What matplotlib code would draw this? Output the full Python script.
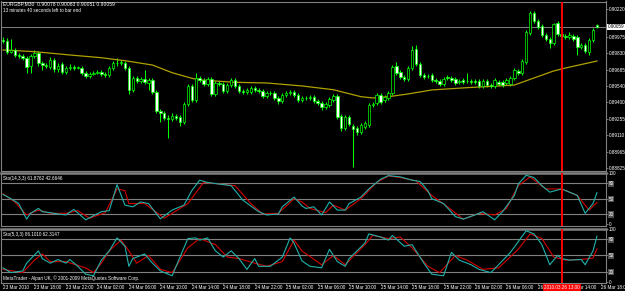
import numpy as np
import matplotlib.pyplot as plt
from matplotlib import font_manager
from matplotlib.transforms import blended_transform_factory as blend

# ---------------------------- EURGBP,M30 bars

opens = [0.89945, 0.89936, 0.89840, 0.89858, 0.89814, 0.89805, 0.89788, 0.89718, 0.89805, 0.89831,
         0.89744, 0.89726, 0.89709, 0.89770, 0.89691, 0.89735, 0.89665, 0.89700, 0.89709, 0.89700,
         0.89700, 0.89656, 0.89630, 0.89648, 0.89656, 0.89665, 0.89648, 0.89639, 0.89700, 0.89744,
         0.89744, 0.89744, 0.89700, 0.89508, 0.89613, 0.89586, 0.89604, 0.89569, 0.89595, 0.89490,
         0.89324, 0.89306, 0.89263, 0.89254, 0.89280, 0.89271, 0.89228, 0.89385, 0.89543, 0.89420,
         0.89613, 0.89595, 0.89560, 0.89604, 0.89473, 0.89569, 0.89560, 0.89499, 0.89551, 0.89595,
         0.89543, 0.89499, 0.89490, 0.89490, 0.89525, 0.89508, 0.89499, 0.89455, 0.89481, 0.89481,
         0.89438, 0.89411, 0.89464, 0.89481, 0.89490, 0.89464, 0.89420, 0.89438, 0.89438, 0.89446,
         0.89411, 0.89394, 0.89359, 0.89376, 0.89420, 0.89455, 0.89280, 0.89175, 0.89271, 0.89193,
         0.89175, 0.89140, 0.89184, 0.89201, 0.89376, 0.89394, 0.89464, 0.89420, 0.89438, 0.89481,
         0.89718, 0.89665, 0.89621, 0.89604, 0.89700, 0.89866, 0.89735, 0.89639, 0.89630, 0.89639,
         0.89595, 0.89586, 0.89560, 0.89621, 0.89613, 0.89604, 0.89578, 0.89595, 0.89586, 0.89586,
         0.89586, 0.89586, 0.89543, 0.89586, 0.89551, 0.89543, 0.89578, 0.89578, 0.89569, 0.89560,
         0.89613, 0.89674, 0.89656, 0.89753, 0.90006, 0.90181, 0.90111, 0.90068, 0.89989, 0.89954,
         0.89919, 0.90094, 0.89998, 0.89980, 0.89971, 0.89980, 0.89971, 0.89884, 0.89901, 0.89840,
         0.89945, 0.90078]

highs = [0.89971, 0.89963, 0.89954, 0.89875, 0.89831, 0.89823, 0.89805, 0.89823, 0.89858, 0.89849,
         0.89761, 0.89744, 0.89796, 0.89788, 0.89744, 0.89753, 0.89718, 0.89735, 0.89726, 0.89718,
         0.89718, 0.89674, 0.89665, 0.89674, 0.89683, 0.89683, 0.89665, 0.89718, 0.89761, 0.89788,
         0.89770, 0.89761, 0.89718, 0.89630, 0.89630, 0.89621, 0.89683, 0.89613, 0.89613, 0.89508,
         0.89341, 0.89324, 0.89289, 0.89306, 0.89298, 0.89289, 0.89403, 0.89560, 0.89560, 0.89656,
         0.89630, 0.89613, 0.89621, 0.89621, 0.89586, 0.89586, 0.89578, 0.89569, 0.89613, 0.89613,
         0.89560, 0.89516, 0.89525, 0.89543, 0.89543, 0.89525, 0.89516, 0.89499, 0.89499, 0.89499,
         0.89455, 0.89481, 0.89499, 0.89508, 0.89508, 0.89481, 0.89455, 0.89455, 0.89464, 0.89464,
         0.89429, 0.89411, 0.89403, 0.89446, 0.89473, 0.89473, 0.89298, 0.89289, 0.89289, 0.89210,
         0.89193, 0.89219, 0.89236, 0.89394, 0.89403, 0.89481, 0.89481, 0.89464, 0.89499, 0.89726,
         0.89753, 0.89683, 0.89639, 0.89718, 0.89893, 0.89901, 0.89753, 0.89656, 0.89648, 0.89656,
         0.89613, 0.89604, 0.89621, 0.89639, 0.89630, 0.89621, 0.89604, 0.89613, 0.89656, 0.89604,
         0.89604, 0.89604, 0.89604, 0.89604, 0.89569, 0.89613, 0.89595, 0.89595, 0.89613, 0.89630,
         0.89700, 0.89691, 0.89779, 0.90033, 0.90199, 0.90199, 0.90129, 0.90085, 0.90006, 0.89971,
         0.90094, 0.90111, 0.90015, 0.89998, 0.90015, 0.89998, 0.89989, 0.89919, 0.89919, 0.89963,
         0.90050, 0.90083]

lows = [0.89919, 0.89823, 0.89831, 0.89796, 0.89788, 0.89770, 0.89656, 0.89656, 0.89788, 0.89718,
        0.89683, 0.89700, 0.89691, 0.89665, 0.89665, 0.89648, 0.89648, 0.89683, 0.89683, 0.89691,
        0.89639, 0.89613, 0.89613, 0.89639, 0.89648, 0.89630, 0.89621, 0.89621, 0.89683, 0.89718,
        0.89726, 0.89683, 0.89473, 0.89490, 0.89569, 0.89569, 0.89560, 0.89508, 0.89473, 0.89306,
        0.89228, 0.89245, 0.89088, 0.89236, 0.89245, 0.89193, 0.89210, 0.89368, 0.89403, 0.89403,
        0.89578, 0.89543, 0.89543, 0.89455, 0.89455, 0.89543, 0.89481, 0.89481, 0.89534, 0.89525,
        0.89481, 0.89473, 0.89473, 0.89473, 0.89490, 0.89481, 0.89438, 0.89438, 0.89464, 0.89420,
        0.89385, 0.89394, 0.89446, 0.89464, 0.89446, 0.89403, 0.89403, 0.89420, 0.89420, 0.89394,
        0.89376, 0.89333, 0.89341, 0.89359, 0.89403, 0.89254, 0.89149, 0.89158, 0.89193, 0.88834,
        0.89114, 0.89123, 0.89166, 0.89184, 0.89359, 0.89376, 0.89385, 0.89403, 0.89420, 0.89464,
        0.89639, 0.89604, 0.89586, 0.89586, 0.89683, 0.89718, 0.89621, 0.89604, 0.89613, 0.89578,
        0.89569, 0.89543, 0.89543, 0.89595, 0.89578, 0.89551, 0.89560, 0.89560, 0.89569, 0.89560,
        0.89560, 0.89525, 0.89525, 0.89534, 0.89525, 0.89525, 0.89543, 0.89534, 0.89551, 0.89543,
        0.89595, 0.89639, 0.89639, 0.89735, 0.89989, 0.90094, 0.90041, 0.89971, 0.89936, 0.89875,
        0.89901, 0.89980, 0.89963, 0.89954, 0.89954, 0.89936, 0.89814, 0.89866, 0.89831, 0.89814,
        0.89928, 0.90051]

closes = [0.89936, 0.89840, 0.89858, 0.89814, 0.89805, 0.89788, 0.89709, 0.89805, 0.89831, 0.89744,
          0.89726, 0.89718, 0.89770, 0.89691, 0.89718, 0.89665, 0.89700, 0.89709, 0.89700, 0.89709,
          0.89656, 0.89630, 0.89648, 0.89656, 0.89665, 0.89648, 0.89639, 0.89700, 0.89744, 0.89748,
          0.89753, 0.89700, 0.89508, 0.89613, 0.89586, 0.89604, 0.89578, 0.89595, 0.89490, 0.89324,
          0.89306, 0.89263, 0.89254, 0.89280, 0.89263, 0.89228, 0.89385, 0.89543, 0.89420, 0.89613,
          0.89595, 0.89560, 0.89604, 0.89473, 0.89569, 0.89560, 0.89499, 0.89551, 0.89595, 0.89543,
          0.89499, 0.89490, 0.89508, 0.89525, 0.89508, 0.89499, 0.89455, 0.89481, 0.89478, 0.89438,
          0.89411, 0.89464, 0.89481, 0.89490, 0.89464, 0.89420, 0.89438, 0.89435, 0.89446, 0.89411,
          0.89394, 0.89359, 0.89385, 0.89429, 0.89455, 0.89271, 0.89175, 0.89271, 0.89210, 0.89166,
          0.89140, 0.89201, 0.89219, 0.89376, 0.89385, 0.89464, 0.89403, 0.89446, 0.89481, 0.89709,
          0.89656, 0.89621, 0.89604, 0.89700, 0.89858, 0.89735, 0.89639, 0.89621, 0.89627, 0.89595,
          0.89586, 0.89560, 0.89604, 0.89613, 0.89595, 0.89569, 0.89586, 0.89578, 0.89583, 0.89578,
          0.89578, 0.89543, 0.89586, 0.89551, 0.89543, 0.89595, 0.89560, 0.89551, 0.89595, 0.89613,
          0.89683, 0.89656, 0.89761, 0.90015, 0.90181, 0.90111, 0.90059, 0.89989, 0.89954, 0.89919,
          0.90085, 0.89998, 0.89980, 0.89971, 0.89989, 0.89954, 0.89884, 0.89901, 0.89849, 0.89945,
          0.90033, 0.90059]

# moving average, read at a few bars
ma_idx = [0, 8, 17, 25, 31, 38, 43, 48, 50, 59, 67, 76, 84, 91, 94, 98, 103, 109, 118, 126,
          130, 135, 140, 143, 151]
ma_val = [0.89858, 0.89843, 0.89814, 0.89790, 0.89764, 0.89726, 0.89659, 0.89610, 0.89595, 0.89575,
          0.89569, 0.89543, 0.89510, 0.89449, 0.89438, 0.89449, 0.89473, 0.89508, 0.89528, 0.89543,
          0.89551, 0.89613, 0.89674, 0.89700, 0.89761]

# Stochastic(14,3,3)
sto1_k_idx = [0, 2, 4, 6, 7, 9, 10, 12, 14, 16, 18, 21, 25, 27, 29, 31, 33, 35, 37, 40,
              43, 46, 48, 50, 52, 55, 58, 61, 65, 67, 70, 71, 74, 76, 77, 79, 81, 83, 85, 87,
              88, 91, 93, 96, 98, 101, 104, 106, 108, 109, 112, 115, 117, 120, 122, 125, 127, 130, 131, 133,
              135, 137, 139, 142, 144, 146, 148, 150, 151]
sto1_k = [58.4, 50.2, 40.6, 10.2, 21.6, 31.1, 24.8, 22.9, 20.3, 18.4, 29.2, 8.9, 24.8, 26.7, 77.5, 37.5, 34.3, 43.8, 40.6, 10.8,
          27.9, 37.5, 66.0, 86.3, 81.9, 78.7, 75.6, 47.0, 24.8, 18.4, 20.3, 34.3, 53.3, 36.0, 31.1, 34.3, 18.4, 43.8, 27.9, 27.9,
          40.6, 53.3, 69.2, 88.3, 95.2, 92.7, 86.3, 83.8, 66.0, 50.2, 40.6, 15.2, 10.2, 18.4, 24.8, 8.9, 24.8, 56.5, 78.7, 95.9,
          91.4, 75.6, 62.9, 69.2, 62.9, 56.5, 21.6, 40.6, 61.9]
sto1_d_idx = [0, 3, 6, 9, 12, 16, 19, 22, 26, 29, 31, 32, 36, 41, 47, 51, 59, 63, 66, 70,
              74, 76, 78, 82, 84, 87, 91, 95, 98, 101, 105, 109, 113, 117, 121, 125, 128, 131, 134, 138,
              142, 146, 149, 151]
sto1_d = [59.7, 43.8, 18.4, 27.9, 21.6, 21.6, 26.7, 12.1, 22.9, 69.2, 66.0, 40.6, 40.6, 12.1, 40.6, 81.9, 75.6, 40.6, 20.3, 21.6,
          50.2, 43.8, 31.1, 22.9, 37.5, 27.9, 50.2, 81.9, 94.6, 91.4, 85.1, 56.5, 34.3, 10.2, 21.6, 18.4, 31.1, 75.6, 92.7, 69.2,
          69.2, 56.5, 27.9, 42.7]

# Stochastic(5,3,3)
sto2_k_idx = [0, 2, 5, 6, 9, 10, 12, 14, 16, 17, 19, 21, 23, 25, 27, 29, 31, 32, 33, 36,
              38, 40, 43, 45, 47, 49, 50, 52, 54, 56, 58, 60, 62, 64, 65, 68, 71, 73, 74, 76,
              78, 81, 83, 85, 87, 88, 92, 93, 96, 98, 99, 102, 104, 107, 109, 112, 114, 116, 119, 121,
              124, 126, 129, 131, 133, 135, 137, 139, 141, 142, 144, 147, 148, 150, 151]
sto2_k = [26.9, 18.0, 21.0, 35.6, 58.6, 44.2, 35.6, 42.5, 35.6, 42.5, 29.8, 15.0, 12.0, 41.3, 58.6, 82.9, 67.3, 29.8, 44.2, 52.9,
          35.6, 21.1, 12.0, 47.1, 81.7, 82.9, 78.8, 82.9, 58.6, 47.1, 58.6, 44.2, 24.0, 44.2, 29.8, 29.8, 47.1, 82.9, 73.1, 40.0,
          29.8, 26.9, 61.5, 38.5, 29.8, 44.2, 73.1, 90.4, 84.6, 78.8, 87.5, 67.3, 70.2, 35.6, 15.0, 12.0, 55.8, 41.3, 32.7, 24.0,
          18.0, 32.7, 55.8, 76.0, 96.2, 90.4, 70.2, 32.7, 50.0, 44.2, 41.3, 42.5, 32.7, 58.6, 86.1]
sto2_d_idx = [0, 5, 8, 10, 12, 16, 21, 23, 25, 27, 30, 32, 34, 37, 40, 43, 47, 50, 54, 57,
              60, 64, 67, 71, 74, 76, 81, 84, 87, 92, 94, 98, 101, 104, 108, 111, 115, 118, 122, 126,
              131, 134, 137, 140, 143, 147, 150, 151]
sto2_d = [24.0, 18.0, 41.3, 52.9, 38.5, 38.5, 26.9, 18.0, 35.6, 58.6, 78.8, 58.6, 35.6, 50.0, 24.0, 18.0, 64.4, 81.7, 70.2, 47.1,
          44.2, 35.6, 29.8, 38.5, 78.8, 58.6, 32.7, 50.0, 32.7, 70.2, 87.5, 81.7, 84.6, 64.4, 29.8, 18.0, 50.0, 41.3, 24.0, 26.9,
          61.5, 90.4, 81.7, 47.1, 41.3, 42.5, 45.3, 62.3]

time_idx = [0, 8, 16, 24, 32, 40, 48, 56, 64, 72, 80, 88, 96, 104, 112, 120, 128, 136, 144, 152]
time_labels = ["23 Mar 2010", "23 Mar 18:00", "23 Mar 22:00", "24 Mar 02:00", "24 Mar 06:00",
               "24 Mar 10:00", "24 Mar 14:00", "24 Mar 18:00", "24 Mar 22:00", "25 Mar 02:00",
               "25 Mar 06:00", "25 Mar 10:00", "25 Mar 14:00", "25 Mar 18:00", "25 Mar 22:00",
               "26 Mar 02:00", "26 Mar 06:00", "26 Mar 10:00", "26 Mar 14:00", "26 Mar 18:00"]

price_ticks = [0.90220, 0.89975, 0.89830, 0.89685, 0.89540, 0.89400, 0.89255, 0.89110, 0.88965, 0.88825]
bid = 0.90059
vline_idx = 142.1
vline_label = "2010.03.26 13:00"

# ----------------------------

installed = {f.name for f in font_manager.fontManager.ttflist}
if "Liberation Sans Narrow" in installed:
    plt.rcParams["font.family"] = ["Liberation Sans Narrow", "DejaVu Sans"]
    FS = 3.9
else:
    plt.rcParams["font.family"] = ["Liberation Sans", "DejaVu Sans"]
    FS = 3.3

GREEN = "#00ff00"
GRAY = "#808080"
W, H = 625, 291

fig = plt.figure(figsize=(W / 100, H / 100), dpi=100, facecolor="black")


def panel(top, bottom):
    ax = fig.add_axes([1 / W, 1 - bottom / H, 605 / W, (bottom - top) / H], facecolor="black")
    for s in ax.spines.values():
        s.set_color(GRAY)
        s.set_linewidth(0.8)
    ax.set_xlim(-0.51, 153.3)
    ax.yaxis.tick_right()
    ax.tick_params(axis="y", direction="out", length=1.5, width=0.6, pad=0.3,
                   labelsize=FS, labelcolor="white", color=GRAY)
    ax.tick_params(axis="x", bottom=False, labelbottom=False)
    return ax


ax1 = panel(1.5, 171)
ax2 = panel(172.5, 226)
ax3 = panel(228.5, 283)
ax2.spines["top"].set_linewidth(1.8)
ax3.spines["top"].set_linewidth(1.8)

# candles
x = np.arange(len(closes))
o = np.array(opens)
c = np.array(closes)
up = c >= o
ax1.vlines(x, lows, highs, color=GREEN, lw=0.75, zorder=2)
ax1.bar(x, np.maximum(np.abs(c - o), 0.00002), bottom=np.minimum(o, c), width=0.62,
        color=np.where(up, "black", "white"), edgecolor=GREEN, linewidth=0.5, zorder=3)
ax1.plot(ma_idx, ma_val, color="#b0a000", lw=0.9, zorder=2)
ax1.axhline(bid, color=GRAY, lw=0.7, zorder=1)
ax1.set_ylim(0.887988, 0.902819)
ax1.set_yticks(price_ticks, [f"{v:.5f}" for v in price_ticks])
ax1.text(1 + 1.5 / 605, bid, f"{bid:.5f}", transform=blend(ax1.transAxes, ax1.transData),
         ha="left", va="center", fontsize=FS, color="black", clip_on=False, zorder=10,
         bbox=dict(boxstyle="square,pad=0.15", fc="white", ec="none"))
ax1.text(2 / 605, 0.985, "EURGBP,M30  0.90078 0.90083 0.90051 0.90059", transform=ax1.transAxes,
         ha="left", va="center", fontsize=FS * 1.1, color="white")
ax1.text(2 / 605, 0.947, "13 minutes 40 seconds left to bar end", transform=ax1.transAxes,
         ha="left", va="center", fontsize=FS, color="white")

# stochastics
for ax, ki, kv, di, dv, lim, title in [
        (ax2, sto1_k_idx, sto1_k, sto1_d_idx, sto1_d, (-3.2, 101.3), "Sto(14,3,3) 61.8762 42.6646"),
        (ax3, sto2_k_idx, sto2_k, sto2_d_idx, sto2_d, (-1.5, 100.5), "Sto(5,3,3) 86.1010 62.3147")]:
    for lv in (20, 50, 80):
        ax.axhline(lv, color=GRAY, lw=0.8, zorder=0)
    ax.plot(di, dv, color="#d40000", lw=0.8, zorder=2)
    ax.plot(ki, kv, color="#20b2aa", lw=0.8, zorder=3)
    ax.set_ylim(*lim)
    ax.set_yticks([0, 20, 50, 80, 100], ["0", "20", "50", "80", "100"])
    for lbl in ax.get_yticklabels():
        if lbl.get_text() in ("20", "50", "80"):
            lbl.set_bbox(dict(boxstyle="square,pad=0.15", fc="#505050", ec="none"))
    ax.text(2 / 605, 0.93, title, transform=ax.transAxes, ha="left", va="top",
            fontsize=FS, color="white")

ax3.text(2 / 605, 0.09, "MetaTrader - Alpari UK, \u00a9 2001-2009 MetaQuotes Software Corp.",
         transform=ax3.transAxes, ha="left", va="center", fontsize=FS, color="white")

# time axis
ax3.tick_params(axis="x", bottom=True, labelbottom=True, length=1.5, width=0.6, pad=0.2,
                labelsize=FS, labelcolor="white", color=GRAY)
ax3.set_xticks(time_idx, time_labels)
for lbl in ax3.get_xticklabels():
    lbl.set_ha("left")

# red vertical line
for ax in (ax1, ax2, ax3):
    ax.axvline(vline_idx, color="#ff0000", lw=1.4, zorder=5)
ax3.text(vline_idx, -0.075, vline_label, transform=blend(ax3.transData, ax3.transAxes),
         ha="center", va="center", fontsize=FS, color="white", clip_on=False, zorder=10,
         bbox=dict(boxstyle="square,pad=0.2", fc="#ff0000", ec="none"))

fig.savefig("out.png", dpi=100, facecolor="black")
